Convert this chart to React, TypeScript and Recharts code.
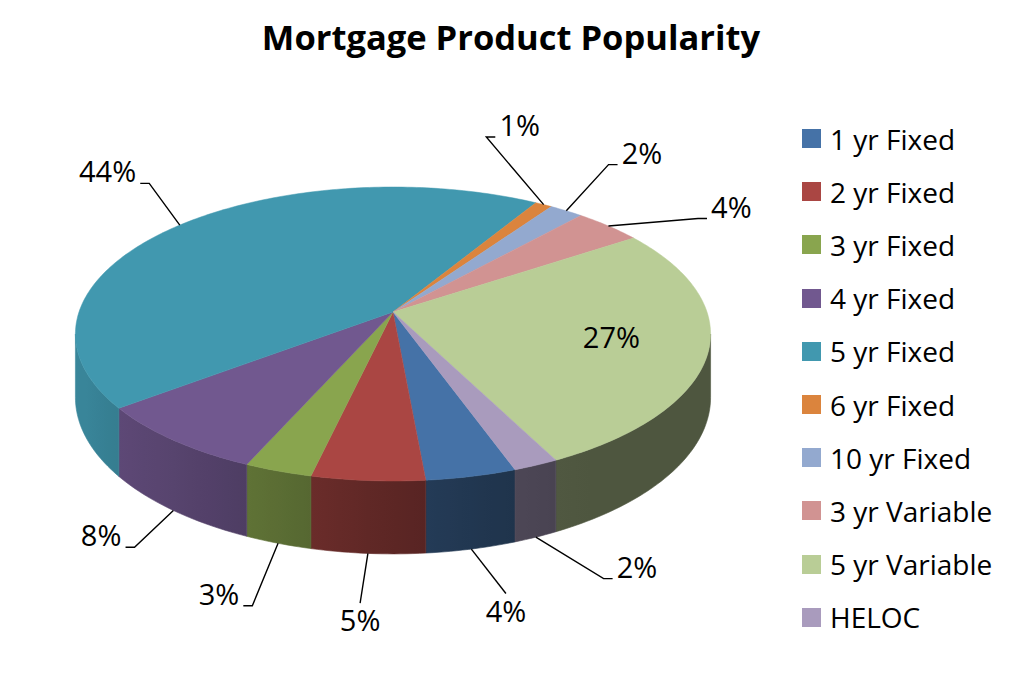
import React from 'react';
import { PieChart, Pie, Cell, Legend } from 'recharts';

// slices in drawing order (clockwise)
const products = ['1 yr Fixed', '2 yr Fixed', '3 yr Fixed', '4 yr Fixed', '5 yr Fixed', '6 yr Fixed', '10 yr Fixed', '3 yr Variable', '5 yr Variable', 'HELOC'];
const shares = [4, 5, 3, 8, 44, 1, 2, 4, 27, 2];
const colors = ['#4572A7', '#AA4643', '#89A54E', '#71588F', '#4198AF', '#DB843D', '#93A9CF', '#D19392', '#B9CD96', '#A99BBD'];
const insideLabels = ['5 yr Variable'];

const data = products.map((name, i) => ({ name, value: shares[i] }));
const total = shares.reduce((a, b) => a + b, 0);

// geometry of the fake 3d view
const START = -70.5;
const END = START - 360;
const CX = 393;
const CY = 312;
const R = 314;
const TILT = 0.4576;
const DIST = 6.68;
const DEPTH = 62;
const LABEL_FONT = 29;

const RAD = Math.PI / 180;
const toPhi = (angle: number) => 90 - angle;
const norm = (phi: number) => ((phi % 360) + 360) % 360;
const SIDE_LIMIT = Math.acos(-1 / DIST) / RAD;

function project(cx: number, cy: number, r: number, phi: number, rho = 1, drop = 0) {
  const x = rho * Math.sin(phi * RAD);
  const z = -rho * Math.cos(phi * RAD);
  const s = DIST / (DIST - z);
  return [cx + r * x * s, cy + r * TILT * z * s + drop * s];
}

const shadeStops: [number, number][] = [[90, 0.42], [150, 0.42], [165, 0.47], [183, 0.56], [198, 0.66], [218, 0.77], [245, 0.87], [275, 0.9]];
function shade(phi: number) {
  const p = norm(phi);
  for (let i = 1; i < shadeStops.length; i++) {
    const [a, fa] = shadeStops[i - 1];
    const [b, fb] = shadeStops[i];
    if (p <= b) return p <= a ? fa : fa + ((p - a) / (b - a)) * (fb - fa);
  }
  return shadeStops[shadeStops.length - 1][1];
}
function darken(hex: string, f: number) {
  const n = parseInt(hex.slice(1), 16);
  const r = Math.round(((n >> 16) & 255) * f);
  const g = Math.round(((n >> 8) & 255) * f);
  const b = Math.round((n & 255) * f);
  return `rgb(${r},${g},${b})`;
}

const Slice3D = (props: any) => {
  const { cx, cy, outerRadius, startAngle, endAngle, fill, name } = props;
  const p0 = Math.min(toPhi(startAngle), toPhi(endAngle));
  const p1 = Math.max(toPhi(startAngle), toPhi(endAngle));
  const key = String(name).replace(/\W/g, '');
  const sides: React.ReactNode[] = [];
  [-360, 0, 360].forEach((off) => {
    const a = Math.max(p0, SIDE_LIMIT + off);
    const b = Math.min(p1, 360 - SIDE_LIMIT + off);
    if (b <= a) return;
    const n = Math.max(2, Math.ceil(b - a));
    const topPts: number[][] = [];
    const botPts: number[][] = [];
    for (let k = 0; k <= n; k++) {
      const f = a + ((b - a) * k) / n;
      topPts.push(project(cx, cy, outerRadius, f));
      botPts.push(project(cx, cy, outerRadius, f, 1, DEPTH));
    }
    const d = 'M' + topPts.map((p) => p.join(',')).join('L') + 'L' + botPts.reverse().map((p) => p.join(',')).join('L') + 'Z';
    const xa = topPts[0][0];
    const xb = topPts[n][0];
    const id = `side-${key}-${off + 360}`;
    if (Math.abs(xb - xa) < 1) {
      const c = darken(fill, shade((a + b) / 2));
      sides.push(<path key={id} d={d} fill={c} stroke={c} strokeWidth={0.6} />);
      return;
    }
    const stops = [];
    for (let k = 0; k <= 8; k++) {
      const f = a + ((b - a) * k) / 8;
      const x = project(cx, cy, outerRadius, f)[0];
      stops.push(<stop key={k} offset={(x - xa) / (xb - xa)} stopColor={darken(fill, shade(f))} />);
    }
    sides.push(
      <g key={id}>
        <defs>
          <linearGradient id={id} gradientUnits="userSpaceOnUse" x1={xa} y1={0} x2={xb} y2={0}>
            {stops}
          </linearGradient>
        </defs>
        <path d={d} fill={`url(#${id})`} stroke={`url(#${id})`} strokeWidth={0.6} />
      </g>
    );
  });
  const n = Math.max(2, Math.ceil(p1 - p0));
  let d = `M${cx},${cy}`;
  for (let k = 0; k <= n; k++) {
    const [x, y] = project(cx, cy, outerRadius, p0 + ((p1 - p0) * k) / n);
    d += `L${x},${y}`;
  }
  d += 'Z';
  return (
    <g>
      {sides}
      <path d={d} fill={fill} stroke={fill} strokeWidth={0.5} />
    </g>
  );
};

// spread the outside labels so they do not overlap (angles in degrees clockwise from top)
const midPhis = shares.map((v, i) => {
  const before = shares.slice(0, i).reduce((a, b) => a + b, 0);
  return norm(toPhi(START) + (360 * (before + v / 2)) / total);
});
function spreadLabels(gap: number) {
  const items = midPhis
    .map((a, i) => ({ i, a }))
    .filter((it) => !insideLabels.includes(products[it.i]))
    .sort((p, q) => p.a - q.a);
  let groups = items.map((it) => ({ items: [it], center: it.a }));
  let merged = true;
  while (merged) {
    merged = false;
    for (let j = 0; j < groups.length - 1; j++) {
      const g1 = groups[j];
      const g2 = groups[j + 1];
      const end1 = g1.center + ((g1.items.length - 1) * gap) / 2;
      const start2 = g2.center - ((g2.items.length - 1) * gap) / 2;
      if (start2 - end1 < gap) {
        const all = [...g1.items, ...g2.items];
        const center = all.reduce((s, it) => s + it.a, 0) / all.length;
        groups = [...groups.slice(0, j), { items: all, center }, ...groups.slice(j + 2)];
        merged = true;
        break;
      }
    }
  }
  const out: number[] = [];
  groups.forEach((g) => {
    g.items.forEach((it, k) => {
      out[it.i] = g.center - ((g.items.length - 1) * gap) / 2 + k * gap;
    });
  });
  return out;
}
const labelPhis = spreadLabels(21);

const renderLabel = (props: any) => {
  const { cx, cy, outerRadius, midAngle, index } = props;
  const text = `${Math.round((shares[index] / total) * 100)}%`;
  const phi = norm(toPhi(midAngle));
  if (insideLabels.includes(products[index])) {
    const [x, y] = project(cx, cy, outerRadius, phi, 0.7);
    return (
      <text x={x} y={y + 10} textAnchor="middle" fontFamily="Open Sans" fontSize={LABEL_FONT} fill="#000">{text}</text>
    );
  }
  const front = Math.cos(phi * RAD) < -1 / DIST;
  const [ax, ay] = project(cx, cy, outerRadius, phi, 1, front ? DEPTH : 0);
  const lp = labelPhis[index] * RAD;
  const upper = Math.cos(lp) > 0;
  const lx = cx + 2 + outerRadius * (upper ? 1.226 : 1.28) * Math.sin(lp);
  const ly = upper
    ? cy + 40 - outerRadius * 0.717 * Math.cos(lp) - 40 * Math.abs(Math.sin(lp))
    : cy + 40 - outerRadius * 0.86 * Math.cos(lp);
  const halfW = ((text.length - 1) * 0.572 + 0.834) * LABEL_FONT / 2;
  let pts: number[][];
  if (Math.abs(Math.sin(lp)) > 0.3) {
    const dir = Math.sin(lp) > 0 ? -1 : 1;
    const ex = lx + dir * (halfW + 4);
    const ey = ly + 11;
    pts = [[ax, ay], [ex + dir * 9, ey], [ex, ey]];
  } else {
    const ey = Math.cos(lp) < 0 ? ly - 18 : ly + 16;
    pts = [[ax, ay], [lx, ey]];
  }
  return (
    <g>
      <polyline points={pts.map((p) => p.join(',')).join(' ')} fill="none" stroke="#000" strokeWidth={1.4} />
      <text x={lx} y={ly + 10} textAnchor="middle" fontFamily="Open Sans" fontSize={LABEL_FONT} fill="#000">{text}</text>
    </g>
  );
};

const renderLegend = (props: any) => {
  const items = [...(props.payload || [])].sort((p: any, q: any) => products.indexOf(p.value) - products.indexOf(q.value));
  return (
    <div style={{ fontFamily: 'Open Sans', fontSize: 28, color: '#000' }}>
      {items.map((entry: any, i: number) => (
        <div key={i} style={{ display: 'flex', alignItems: 'center', height: 53.2 }}>
          <span style={{ display: 'inline-block', width: 19, height: 19, background: colors[products.indexOf(entry.value)] ?? entry.color, marginRight: 9 }} />
          <span style={{ whiteSpace: 'nowrap' }}>{entry.value}</span>
        </div>
      ))}
    </div>
  );
};

export default function App() {
  return (
    <div style={{ position: 'absolute', left: 0, top: 0, width: 1024, height: 687, background: '#fff' }}>
      <div style={{ position: 'absolute', left: 0, top: 20, width: 1022, textAlign: 'center', fontFamily: 'Open Sans', fontWeight: 'bold', fontSize: 34.5, lineHeight: 1 }}>
        Mortgage Product Popularity
      </div>
      <PieChart width={1024} height={687} margin={{ top: 0, right: 0, bottom: 0, left: 0 }}>
        <Pie
          data={data}
          dataKey="value"
          nameKey="name"
          cx={CX}
          cy={CY}
          outerRadius={R}
          startAngle={START}
          endAngle={END}
          stroke="none"
          legendType="square"
          isAnimationActive={false}
          labelLine={false}
          label={renderLabel}
          shape={Slice3D}
        >
          {data.map((entry, index) => (
            <Cell key={`cell-${index}`} fill={colors[index]} />
          ))}
        </Pie>
        <Legend
          layout="vertical"
          align="right"
          verticalAlign="middle"
          content={renderLegend}
          wrapperStyle={{ left: 802, top: 112, right: 'auto', width: 222 }}
        />
      </PieChart>
    </div>
  );
}
